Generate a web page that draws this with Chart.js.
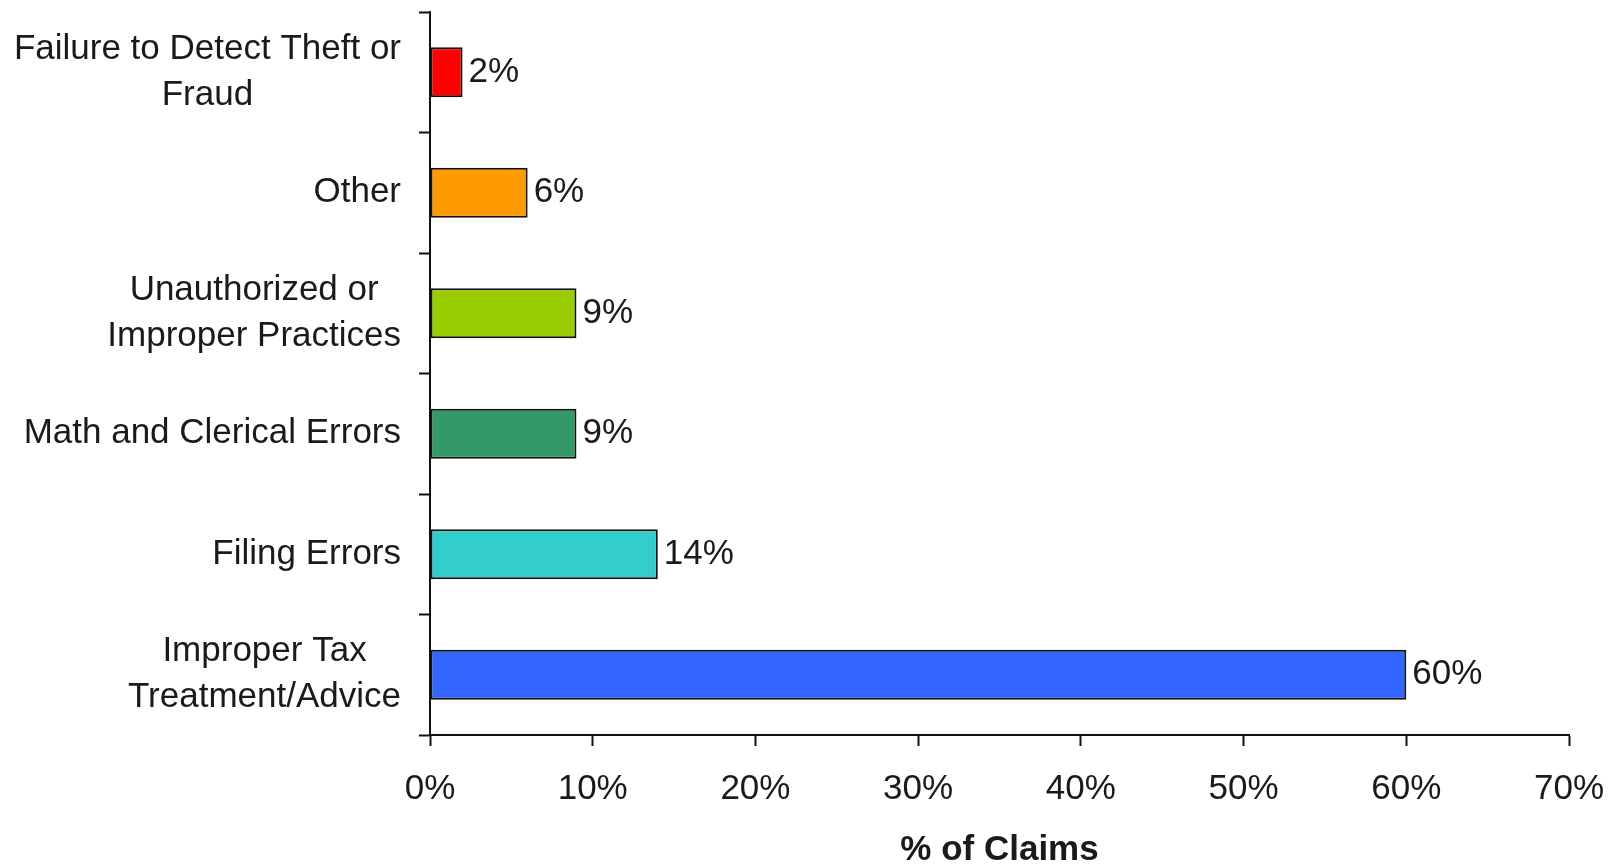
<!DOCTYPE html>
<html>
<head>
<meta charset="utf-8">
<script src="https://cdn.jsdelivr.net/npm/chart.js@4"></script>
<style>
  html, body { margin: 0; padding: 0; background: #fff; }
  #wrap { width: 1614px; height: 868px; }
</style>
</head>
<body>
<div id="wrap"><canvas id="chart"></canvas></div>
<script>
// categories, top to bottom
const categories = [
  ["Failure to Detect Theft or", "Fraud"],
  ["Other"],
  ["Unauthorized or", "Improper Practices"],
  ["Math and Clerical Errors"],
  ["Filing Errors"],
  ["Improper Tax", "Treatment/Advice"]
];
const claimShare = [2, 6, 9, 9, 14, 60];
const barColors = ["#ff0000", "#ff9900", "#99cc00", "#339966", "#33cccc", "#3366ff"];
const xTicks = [0, 10, 20, 30, 40, 50, 60, 70];
const xTitle = "% of Claims";

const fontFamily = "'Liberation Sans', Arial, sans-serif";
const textColor = "#1a1a1a";

// category labels: block right-aligned to the axis, lines centred inside the block
const categoryLabels = {
  id: "categoryLabels",
  afterDraw(chart) {
    const ctx = chart.ctx;
    const y = chart.scales.y;
    const right = y.right - 29;
    ctx.save();
    ctx.font = "35px " + fontFamily;
    ctx.fillStyle = textColor;
    ctx.textAlign = "center";
    ctx.textBaseline = "middle";
    categories.forEach((lines, i) => {
      const w = Math.max(...lines.map(l => ctx.measureText(l).width));
      const cx = right - w / 2;
      const cy = y.getPixelForValue(i);
      lines.forEach((l, j) => {
        ctx.fillText(l, cx, cy + (j - (lines.length - 1) / 2) * 46);
      });
    });
    ctx.restore();
  }
};

// value labels at the end of each bar
const valueLabels = {
  id: "valueLabels",
  afterDatasetsDraw(chart) {
    const ctx = chart.ctx;
    const meta = chart.getDatasetMeta(0);
    ctx.save();
    ctx.font = "35px " + fontFamily;
    ctx.fillStyle = textColor;
    ctx.textAlign = "left";
    ctx.textBaseline = "middle";
    meta.data.forEach((bar, i) => {
      ctx.fillText(claimShare[i] + "%", bar.x + 6, bar.y);
    });
    ctx.restore();
  }
};

new Chart(document.getElementById("chart"), {
  type: "bar",
  data: {
    labels: categories.map(c => c.join(" ")),
    datasets: [{
      data: claimShare,
      backgroundColor: barColors,
      borderColor: "#111",
      borderWidth: 2,
      borderSkipped: false,
      barPercentage: 0.415,
      categoryPercentage: 1
    }]
  },
  options: {
    indexAxis: "y",
    responsive: true,
    maintainAspectRatio: false,
    animation: false,
    layout: { padding: { top: 12, right: 45, left: 0, bottom: 0 } },
    plugins: {
      legend: { display: false },
      tooltip: { enabled: false }
    },
    scales: {
      x: {
        min: 0,
        max: 70,
        afterBuildTicks: scale => { scale.ticks = xTicks.map(v => ({ value: v })); },
        afterFit: scale => {
          scale.height = 133;
          scale.paddingLeft = 0;
          scale.paddingRight = 0;
        },
        border: { color: "#111", width: 2 },
        grid: { drawOnChartArea: false, drawTicks: true, tickLength: 11, tickWidth: 2, tickColor: "#111" },
        ticks: {
          color: textColor,
          font: { family: fontFamily, size: 35 },
          padding: 22,
          maxRotation: 0,
          callback: v => v + "%"
        },
        title: {
          display: true,
          text: xTitle,
          color: textColor,
          font: { family: fontFamily, size: 35, weight: "bold", lineHeight: 1 },
          padding: { top: 0, bottom: 0 }
        }
      },
      y: {
        afterFit: scale => { scale.width = 430; },
        border: { color: "#111", width: 2 },
        grid: { drawOnChartArea: false, drawTicks: true, tickLength: 11, tickWidth: 2, tickColor: "#111", offset: true },
        ticks: { display: false }
      }
    }
  },
  plugins: [categoryLabels, valueLabels]
});
</script>
</body>
</html>
